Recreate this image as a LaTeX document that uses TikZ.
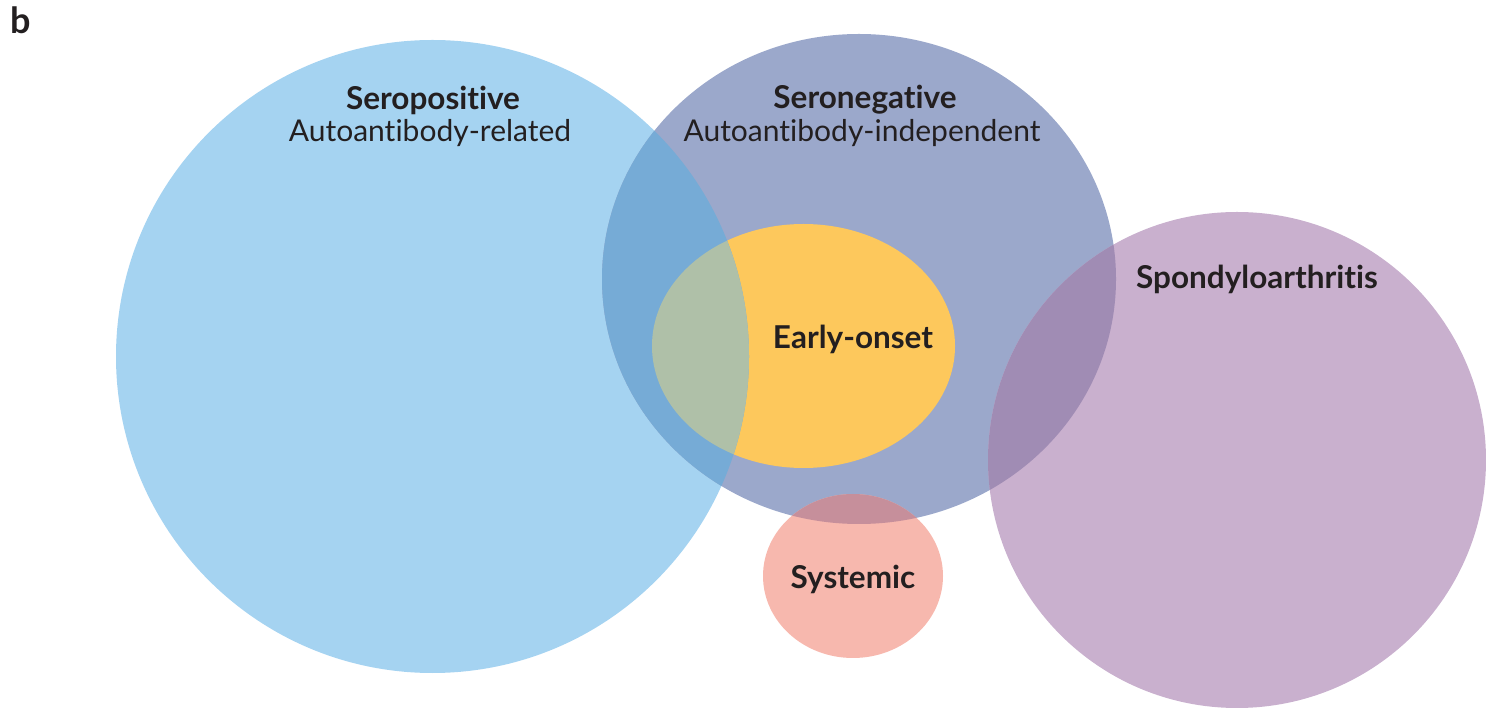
\documentclass[tikz,border=0pt]{standalone}
\usepackage{fontspec}
\setmainfont{Lato}[Ligatures=NoCommon]
\definecolor{cblue}{HTML}{A5D3F1}
\definecolor{cneg}{HTML}{9BA8CB}
\definecolor{cbluneg}{HTML}{76ABD6}
\definecolor{cyel}{HTML}{FDC85C}
\definecolor{cyelblu}{HTML}{AFC0A8}
\definecolor{cpur}{HTML}{C9B0CE}
\definecolor{cpurneg}{HTML}{A08CB4}
\definecolor{cpink}{HTML}{F7B8AE}
\definecolor{cpinkneg}{HTML}{C68F9B}
\definecolor{ctext}{HTML}{231F20}
\begin{document}
\begin{tikzpicture}[x=1pt,y=1pt,
  lbl/.style={text=ctext,font=\fontsize{31.5}{34}\selectfont\bfseries,inner sep=0pt},
  sub/.style={text=ctext,font=\fontsize{30}{33}\selectfont,inner sep=0pt}]
\useasboundingbox (0,0) rectangle (1486,707);
% base shapes
\def\blue{(432.5,350.5) ellipse [x radius=316.5,y radius=316.5]}
\def\neg{(859,428) ellipse [x radius=257,y radius=245]}
\def\yel{(803.5,361) ellipse [x radius=151.5,y radius=122]}
\def\pink{(853,131) ellipse [x radius=90,y radius=82]}
\def\pur{(1237,247) ellipse [x radius=249,y radius=248]}
\fill[cblue] \blue;
\fill[cneg] \neg;
\fill[cpur] \pur;
\fill[cpink] \pink;
\fill[cyel] \yel;
% overlaps
\begin{scope}
  \clip \blue;
  \fill[cbluneg] \neg;
  \fill[cyelblu] \yel;
\end{scope}
\begin{scope}
  \clip \neg;
  \fill[cpurneg] \pur;
  \fill[cpinkneg] \pink;
\end{scope}
% labels
\node[text=ctext,font=\fontsize{36}{38}\selectfont\bfseries,inner sep=0pt,anchor=north west] (b) at (10,700) {b};
\node[lbl] (spos) at (433,607) {Seropositive};
\node[sub] (sposs) at (430,574) {Autoantibody-related};
\node[lbl] (sneg) at (865,607) {Seronegative};
\node[sub] (snegs) at (862,574) {Autoantibody-independent};
\node[lbl] (spa) at (1257,428) {Spondyloarthritis};
\node[lbl] (early) at (853,368) {Early-onset};
\node[lbl] (sys) at (853,128) {Systemic};
\end{tikzpicture}
\end{document}
